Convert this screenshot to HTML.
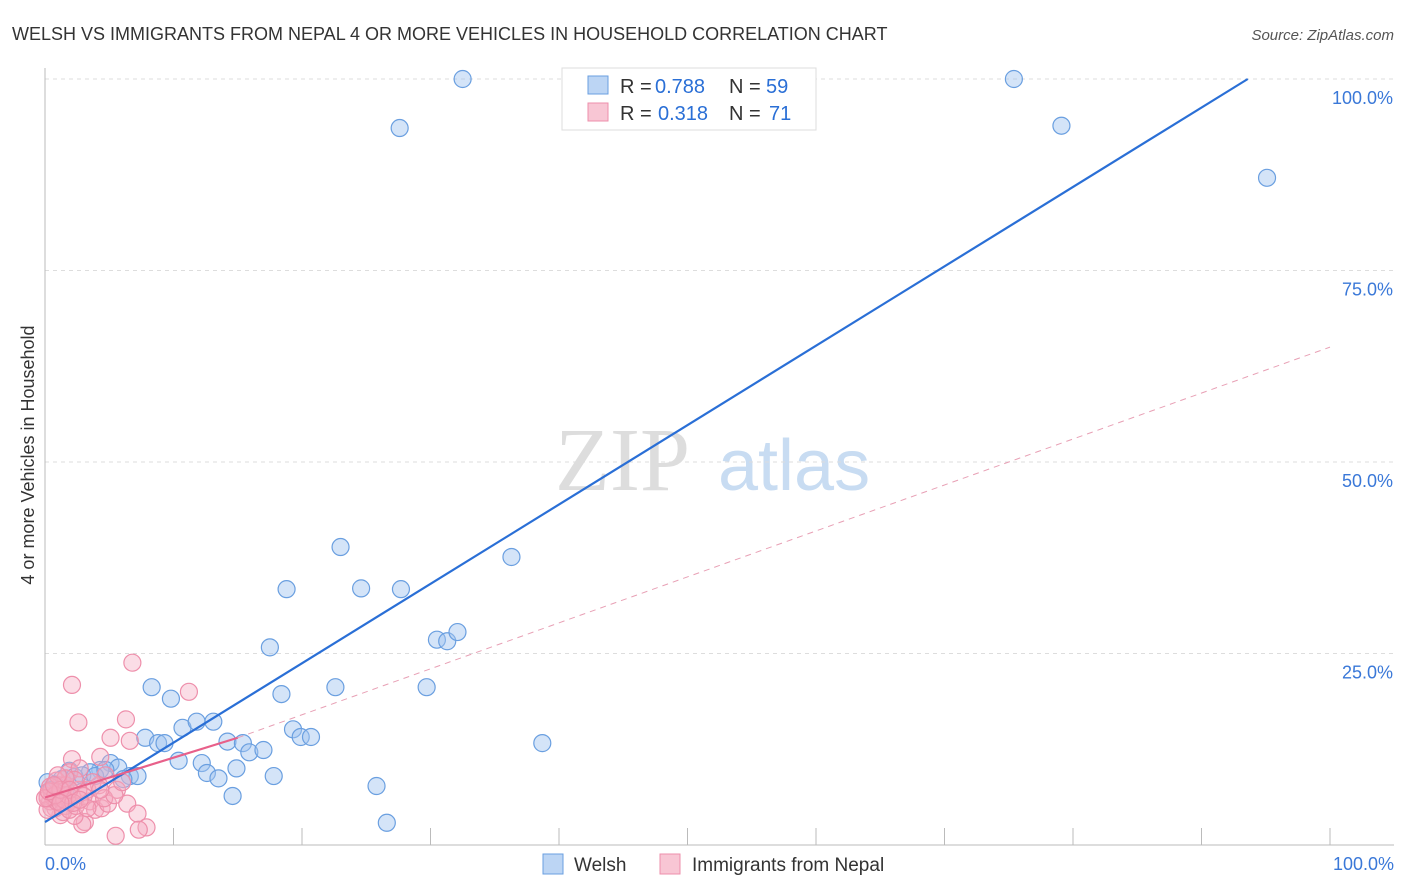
<!DOCTYPE html>
<html><head><meta charset="utf-8"><style>
body{margin:0;background:#fff;font-family:"Liberation Sans",sans-serif;}
#wrap{position:relative;width:1406px;height:892px;overflow:hidden;}
</style></head><body>
<div id="wrap">
<svg id="svg" width="1406" height="892" xmlns="http://www.w3.org/2000/svg">
<text x="12" y="40" font-size="18" fill="#333">WELSH VS IMMIGRANTS FROM NEPAL 4 OR MORE VEHICLES IN HOUSEHOLD CORRELATION CHART</text>
<text x="1394" y="40" font-size="15" fill="#555" font-style="italic" text-anchor="end">Source: ZipAtlas.com</text>
<text x="34" y="455" font-size="18" fill="#333" text-anchor="middle" transform="rotate(-90 34 455)">4 or more Vehicles in Household</text>
<text x="555" y="490" font-size="90" fill="#ddd" font-family="Liberation Serif,serif">ZIP</text>
<text x="718" y="490" font-size="72" fill="#c8dcf2">atlas</text>
<g id="grid"></g><g id="pts"></g><g id="lines"></g>
<g>
<rect x="562" y="68" width="254" height="62" fill="#fff" stroke="#ddd"/>
<rect x="588" y="76" width="20" height="18" fill="#bcd5f4" stroke="#6a9fe0"/>
<text x="620" y="93" font-size="20" fill="#333">R =</text>
<text x="655" y="93" font-size="20" fill="#2a6fd6">0.788</text>
<text x="729" y="93" font-size="20" fill="#333">N =</text>
<text x="766" y="93" font-size="20" fill="#2a6fd6">59</text>
<rect x="588" y="103" width="20" height="18" fill="#f8c6d4" stroke="#ee8fab"/>
<text x="620" y="120" font-size="20" fill="#333">R =</text>
<text x="658" y="120" font-size="20" fill="#2a6fd6">0.318</text>
<text x="729" y="120" font-size="20" fill="#333">N =</text>
<text x="769" y="120" font-size="20" fill="#2a6fd6">71</text>
</g>
<g>
<rect x="543" y="854" width="20" height="20" fill="#bcd5f4" stroke="#6a9fe0"/>
<text x="574" y="871" font-size="19" fill="#333">Welsh</text>
<rect x="660" y="854" width="20" height="20" fill="#f8c6d4" stroke="#ee8fab"/>
<text x="692" y="871" font-size="19" fill="#333">Immigrants from Nepal</text>
</g>
</svg></div>
<script>
const welshX=[32.5,75.4,27.6,79.1,95.1,23,36.3,18.8,24.6,27.7,30.5,31.3,32.1,17.5,8.3,9.8,18.4,22.6,29.7,10.7,11.8,13.1,19.3,19.9,20.7,7.8,8.8,9.3,14.2,15.4,15.9,17,10.4,12.2,12.6,13.5,14.9,17.8,14.6,25.8,26.6,38.7,5.1,5.7,6.6,7.2,6.1,4.3,3.5,1.9,1.3,0.8,0.2,2.3,2.9,1.6,3.9,4.7,0.5];
const welshY=[100,100,93.6,93.9,87.1,38.9,37.6,33.4,33.5,33.4,26.8,26.6,27.8,25.8,20.6,19.1,19.7,20.6,20.6,15.3,16.1,16.1,15.1,14.1,14.1,14,13.3,13.3,13.5,13.3,12.1,12.4,11,10.7,9.4,8.7,10,9,6.4,7.7,2.9,13.3,10.7,10.1,9,9,8.6,9.8,9.5,9.7,8.6,7.9,8.2,8.9,9.1,7.2,9,9.8,7.2];
const nepalX=[6.8,2.1,11.2,2.6,6.3,5.1,6.6,2.1,4.3,1.9,2.7,4.7,4.2,5.6,6.4,7.2,7.9,7.3,5.5,3.1,2.9,2.3,1.2,0.8,0.4,0.2,0.5,1,1.3,1.6,1.9,2.1,1.2,0.9,1.6,0.5,0.2,1.4,1.9,2.4,3.5,3.9,4.4,4.9,4.6,5.4,6,3.3,3.7,0.6,0.9,0.2,1.5,1.8,0.4,2.6,3,4.3,2.3,1.6,1,3.3,0,0.8,1.2,1.9,2.2,2.7,0.3,0.7,1.2];
const nepalY=[23.8,20.9,20,16,16.4,14,13.6,11.2,11.5,9.5,10,9.1,7.8,7.2,5.4,4.1,2.3,2,1.2,3,2.7,3.8,3.9,4.8,5.7,6.4,7,6.7,6,5.1,5.7,6.4,7.8,8.4,7.8,4.8,4.6,4.3,4.6,5.1,5.7,4.6,4.8,5.4,6.1,6.5,8.2,7.2,8.2,6.3,5.7,6.1,5.9,6.5,7.6,7.2,6.4,7.2,8.5,8.7,9.1,4.8,6.1,6.5,7.2,7.2,5.5,5.9,7,7.8,5.5];
const xTicks=[0,10,20,30,40,50,60,70,80,90,100];
const yTicks=[25,50,75,100];
const yTickLabels=["25.0%","50.0%","75.0%","100.0%"];
const welshLine=[0,3,93.6,100];
const nepalLine=[0,6.2,15,14,100,65];
const X=v=>45+v*12.85, Y=v=>845-v*7.66;
const NS="http://www.w3.org/2000/svg";
function mk(t,a,p){const e=document.createElementNS(NS,t);for(const k in a)e.setAttribute(k,a[k]);p.appendChild(e);return e;}
const g=document.getElementById('grid');
yTicks.forEach((t,i)=>{const l=mk('line',{x1:45,x2:1394,y1:Y(t),y2:Y(t),stroke:'#ddd','stroke-dasharray':'4,4'},g);


const tx=mk('text',{x:1393,y:Y(t)+25,'font-size':18,fill:'#3a78d8','text-anchor':'end'},g);tx.textContent=yTickLabels[i];

});
const ax=mk('line',{x1:45,x2:45,y1:68,y2:845,stroke:'#bbb'},g);


const bx=mk('line',{x1:45,x2:1394,y1:845,y2:845,stroke:'#bbb'},g);


xTicks.forEach(t=>{if(t===0)return;const l=mk('line',{x1:X(t),x2:X(t),y1:828,y2:845,stroke:'#bbb'},g);

});
[[0,"0.0%","start",45],[100,"100.0%","end",1394]].forEach(a=>{const tx=mk('text',{x:a[3],y:870,'font-size':18,fill:'#3a78d8','text-anchor':a[2]},g);tx.textContent=a[1];

});
const p=document.getElementById('pts');
welshX.forEach((v,i)=>{const c=mk('circle',{cx:X(v),cy:Y(welshY[i]),r:8.5,fill:'rgba(160,196,240,0.45)',stroke:'#6a9fe0','stroke-width':1.2},p);

});
nepalX.forEach((v,i)=>{const c=mk('circle',{cx:X(v),cy:Y(nepalY[i]),r:8.5,fill:'rgba(246,170,192,0.4)',stroke:'#ee8fab','stroke-width':1.2},p);

});
const L=document.getElementById('lines');
const wl=mk('line',{x1:X(welshLine[0]),y1:Y(welshLine[1]),x2:X(welshLine[2]),y2:Y(welshLine[3]),stroke:'#2a6fd6','stroke-width':2.2},L);


const n1=mk('line',{x1:X(nepalLine[0]),y1:Y(nepalLine[1]),x2:X(nepalLine[2]),y2:Y(nepalLine[3]),stroke:'#e8608a','stroke-width':2.2},L);


const n2=mk('line',{x1:X(nepalLine[2]),y1:Y(nepalLine[3]),x2:X(nepalLine[4]),y2:Y(nepalLine[5]),stroke:'#e8a0b5','stroke-width':1,'stroke-dasharray':'6,5'},L);


</script>
</body></html>
